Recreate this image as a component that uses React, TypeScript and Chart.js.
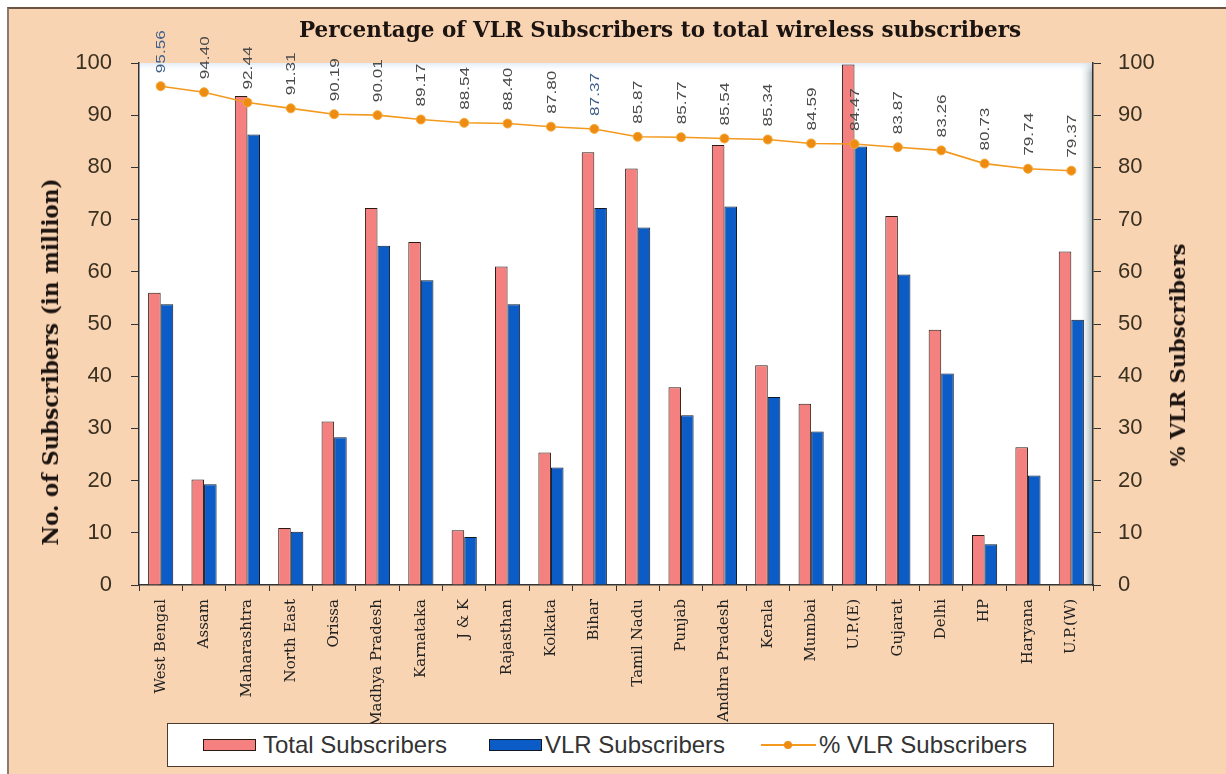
import React, { useEffect, useRef } from 'react';
import { Chart, registerables } from 'chart.js';

Chart.register(...registerables);

const categories = [
  'West Bengal', 'Assam', 'Maharashtra', 'North East', 'Orissa', 'Madhya Pradesh',
  'Karnataka', 'J & K', 'Rajasthan', 'Kolkata', 'Bihar', 'Tamil Nadu', 'Punjab',
  'Andhra Pradesh', 'Kerala', 'Mumbai', 'U.P.(E)', 'Gujarat', 'Delhi', 'HP',
  'Haryana', 'U.P.(W)',
];

const totalSubscribers = [
  56.0, 20.2, 93.7, 10.9, 31.3, 72.2, 65.7, 10.5, 61.0, 25.4, 82.9, 79.8, 37.9,
  84.3, 42.1, 34.7, 99.7, 70.7, 48.9, 9.6, 26.4, 63.9,
];

const vlrSubscribers = [
  53.8, 19.3, 86.3, 10.2, 28.3, 65.0, 58.4, 9.2, 53.8, 22.5, 72.2, 68.5, 32.5,
  72.5, 36.0, 29.4, 84.0, 59.5, 40.5, 7.8, 21.0, 50.8,
];

const vlrPercent = [
  95.56, 94.40, 92.44, 91.31, 90.19, 90.01, 89.17, 88.54, 88.40, 87.80, 87.37,
  85.87, 85.77, 85.54, 85.34, 84.59, 84.47, 83.87, 83.26, 80.73, 79.74, 79.37,
];

const highlightedLabels = [0, 10];

const plotBackground = {
  id: 'plotBackground',
  beforeDraw(chart: any) {
    const { ctx, chartArea } = chart;
    const { left, top, right, bottom } = chartArea;
    ctx.save();
    ctx.fillStyle = '#ffffff';
    ctx.fillRect(left, top, right - left, bottom - top);
    const g = ctx.createLinearGradient(right - 14, 0, right, 0);
    g.addColorStop(0, 'rgba(255,255,255,0)');
    g.addColorStop(1, 'rgba(140,158,160,0.85)');
    ctx.fillStyle = g;
    ctx.fillRect(right - 14, top, 14, bottom - top);
    const g2 = ctx.createLinearGradient(0, top, 0, top + 10);
    g2.addColorStop(0, 'rgba(220,232,245,0.8)');
    g2.addColorStop(1, 'rgba(255,255,255,0)');
    ctx.fillStyle = g2;
    ctx.fillRect(left, top, right - left, 10);
    ctx.restore();
  },
};

const pointLabels = {
  id: 'pointLabels',
  afterDatasetsDraw(chart: any) {
    const { ctx } = chart;
    const meta = chart.getDatasetMeta(2);
    if (!meta || !meta.data) return;
    ctx.save();
    ctx.font = '13px "Liberation Sans", Arial, sans-serif';
    ctx.textAlign = 'left';
    ctx.textBaseline = 'middle';
    meta.data.forEach((pt: any, i: number) => {
      const v = vlrPercent[i];
      ctx.save();
      ctx.translate(pt.x + 1, pt.y - 13);
      ctx.rotate(-Math.PI / 2);
      ctx.scale(1.32, 1);
      ctx.fillStyle = highlightedLabels.includes(i) ? '#3d5f8a' : '#4a4a4a';
      ctx.fillText(v.toFixed(2), 0, 0);
      ctx.restore();
    });
    ctx.restore();
  },
};

export default function App() {
  const canvasRef = useRef<HTMLCanvasElement | null>(null);

  useEffect(() => {
    if (!canvasRef.current) return;
    const tickFont = { family: '"Liberation Sans", Arial, sans-serif', size: 22 };
    const chart = new Chart(canvasRef.current, {
      type: 'bar',
      data: {
        labels: categories,
        datasets: [
          {
            type: 'bar',
            label: 'Total Subscribers',
            data: totalSubscribers,
            backgroundColor: '#F48080',
            borderColor: '#2a1a12',
            borderWidth: 1,
            yAxisID: 'y',
            order: 2,
            categoryPercentage: 0.58,
            barPercentage: 1.0,
          },
          {
            type: 'bar',
            label: 'VLR Subscribers',
            data: vlrSubscribers,
            backgroundColor: '#0B5CC6',
            borderColor: '#101828',
            borderWidth: 1,
            yAxisID: 'y',
            order: 2,
            categoryPercentage: 0.58,
            barPercentage: 1.0,
          },
          {
            type: 'line',
            label: '% VLR Subscribers',
            data: vlrPercent,
            borderColor: '#F39A1E',
            borderWidth: 1.6,
            pointRadius: 4.5,
            pointBackgroundColor: '#EE8C12',
            pointBorderColor: '#F6A93B',
            pointBorderWidth: 1,
            tension: 0,
            fill: false,
            yAxisID: 'y1',
            order: 0,
          },
        ] as any,
      },
      options: {
        responsive: false,
        animation: false,
        devicePixelRatio: 1,
        layout: { padding: { top: 63, bottom: 51, left: 0, right: 0 } },
        plugins: {
          legend: { display: false },
          title: { display: false },
          tooltip: { enabled: false },
        },
        scales: {
          x: {
            type: 'category',
            offset: true,
            grid: {
              display: true,
              drawOnChartArea: false,
              drawTicks: true,
              tickLength: 6,
              color: '#333333',
              offset: true,
            },
            border: { display: true, color: '#333333', width: 1.5 },
            ticks: {
              autoSkip: false,
              minRotation: 90,
              maxRotation: 90,
              padding: 8,
              color: '#222222',
              font: { family: '"DejaVu Serif", serif', size: 15 },
            },
            afterFit: (s: any) => { s.height = 138; },
          },
          y: {
            position: 'left',
            min: 0,
            max: 100,
            ticks: { stepSize: 10, padding: 19, color: '#3a3020', font: tickFont },
            grid: { drawOnChartArea: false, tickLength: 8, color: '#333333' },
            border: { display: true, color: '#333333', width: 1.5 },
            afterFit: (s: any) => { s.width = 139; },
          },
          y1: {
            position: 'right',
            min: 0,
            max: 100,
            ticks: { stepSize: 10, padding: 17, color: '#3a3020', font: tickFont },
            grid: { drawOnChartArea: false, tickLength: 8, color: '#333333' },
            border: { display: true, color: '#333333', width: 1.5 },
            afterFit: (s: any) => { s.width = 133; },
          },
        },
      } as any,
      plugins: [plotBackground, pointLabels],
    });
    return () => chart.destroy();
  }, []);

  const serifBold: React.CSSProperties = {
    fontFamily: '"DejaVu Serif", serif',
    fontWeight: 'bold',
    color: '#1b1410',
    whiteSpace: 'nowrap',
    position: 'absolute',
  };

  const legendText: React.CSSProperties = {
    position: 'absolute',
    top: 0,
    height: 41,
    lineHeight: '41px',
    fontFamily: '"Liberation Sans", Arial, sans-serif',
    fontSize: 24,
    color: '#333333',
    whiteSpace: 'nowrap',
  };

  return (
    <div style={{ position: 'absolute', left: 0, top: 0, width: 1226, height: 774, background: '#ffffff', overflow: 'hidden' }}>
      <div
        style={{
          position: 'absolute', left: 7, top: 7, width: 1240, height: 800,
          background: '#F9D4B3', borderTop: '2px solid #6a5446', borderLeft: '2px solid #8a7a70',
          boxSizing: 'border-box',
        }}
      />
      <canvas ref={canvasRef} width={1226} height={774} style={{ position: 'absolute', left: 0, top: 0, width: 1226, height: 774 }} />
      <div style={{ ...serifBold, left: 660, top: 17, fontSize: 21.5, lineHeight: '26px', transform: 'translateX(-50%)' }}>
        Percentage of VLR Subscribers to total wireless subscribers
      </div>
      <div style={{ ...serifBold, left: 51, top: 362, fontSize: 21.5, lineHeight: '26px', transform: 'translate(-50%,-50%) rotate(-90deg)' }}>
        No. of Subscribers (in million)
      </div>
      <div style={{ ...serifBold, left: 1178, top: 355, fontSize: 21, lineHeight: '26px', transform: 'translate(-50%,-50%) rotate(-90deg)' }}>
        % VLR Subscribers
      </div>
      <div
        style={{
          position: 'absolute', left: 167, top: 723, width: 887, height: 44,
          background: '#ffffff', border: '1.5px solid #4a3a30', boxSizing: 'border-box',
        }}
      >
        <div style={{ position: 'absolute', left: 35, top: 15, width: 53, height: 12, background: '#F48080', border: '1.5px solid #2a1a12', boxSizing: 'border-box' }} />
        <div style={{ ...legendText, left: 95 }}>Total Subscribers</div>
        <div style={{ position: 'absolute', left: 321, top: 15, width: 53, height: 12, background: '#0B5CC6', border: '1.5px solid #101828', boxSizing: 'border-box' }} />
        <div style={{ ...legendText, left: 377 }}>VLR Subscribers</div>
        <div style={{ position: 'absolute', left: 593, top: 20, width: 55, height: 2, background: '#F39A1E' }} />
        <div style={{ position: 'absolute', left: 616, top: 17, width: 8, height: 8, borderRadius: 4, background: '#EE8C12' }} />
        <div style={{ ...legendText, left: 651 }}>% VLR Subscribers</div>
      </div>
    </div>
  );
}
